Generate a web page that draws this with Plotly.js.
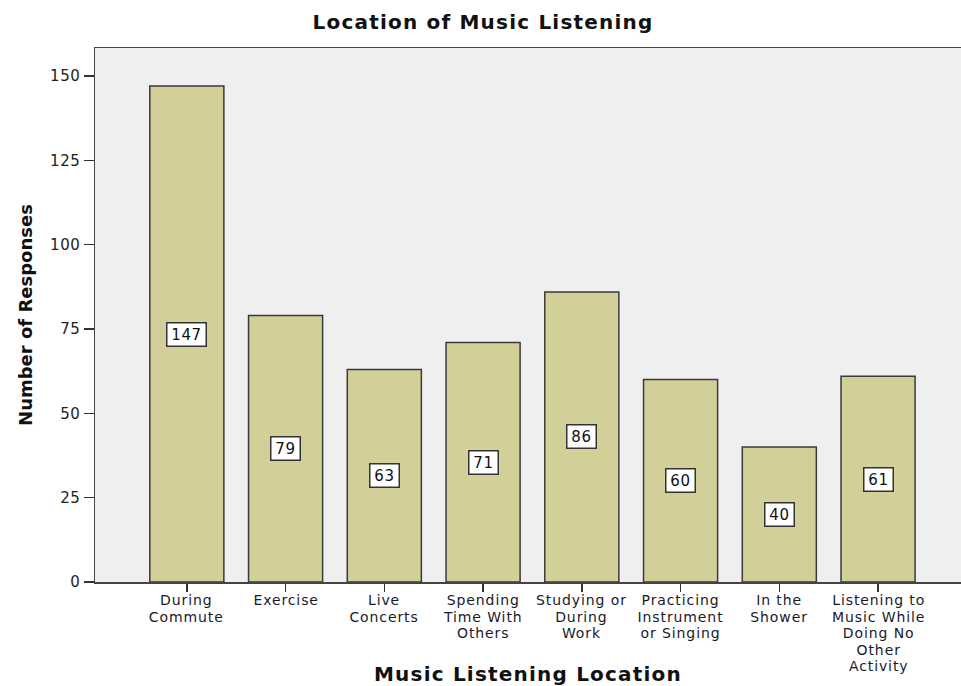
<!DOCTYPE html>
<html>
<head>
<meta charset="utf-8">
<script src="https://cdn.plot.ly/plotly-3.0.1.min.js"></script>
<style>
html,body{margin:0;padding:0;background:#fff;}
#chart .gtitle{letter-spacing:1.2px;}
#chart .g-xtitle text{letter-spacing:1.2px;}
#chart .ytick text{letter-spacing:0.6px;}
#chart .annotation-text{letter-spacing:0.6px;}
#chart .annotation[data-index="8"] .annotation-text,
#chart .annotation[data-index="9"] .annotation-text,
#chart .annotation[data-index="10"] .annotation-text,
#chart .annotation[data-index="11"] .annotation-text,
#chart .annotation[data-index="12"] .annotation-text,
#chart .annotation[data-index="13"] .annotation-text,
#chart .annotation[data-index="14"] .annotation-text,
#chart .annotation[data-index="15"] .annotation-text{letter-spacing:0.9px;}
</style>
</head>
<body>
<div id="chart" style="width:961px;height:686px;"></div>
<script>
const categories = ["During Commute","Exercise","Live Concerts","Spending Time With Others","Studying or During Work","Practicing Instrument or Singing","In the Shower","Listening to Music While Doing No Other Activity"];
const tickLabels = ["During<br>Commute","Exercise","Live<br>Concerts","Spending<br>Time With<br>Others","Studying or<br>During<br>Work","Practicing<br>Instrument<br>or Singing","In the<br>Shower","Listening to<br>Music While<br>Doing No<br>Other<br>Activity"];
const responses = [147, 79, 63, 71, 86, 60, 40, 61];
const yTicks = [0, 25, 50, 75, 100, 125, 150];

const FONT = "DejaVu Sans, Verdana, sans-serif";
const LINE_PX = 16.5;
const xIdx = categories.map((c, i) => i);

const trace = {
  type: "bar",
  x: xIdx,
  y: responses,
  width: 0.75,
  marker: {color: "#d3cf98", line: {color: "#3a3a3a", width: 1.5}},
  hoverinfo: "skip"
};

const valueLabels = responses.map((v, i) => ({
  x: i, y: v / 2, xref: "x", yref: "y",
  text: String(v), showarrow: false,
  width: String(v).length * 10 + 4,
  font: {family: FONT, size: 15, color: "#111"},
  bgcolor: "#ffffff", bordercolor: "#333", borderwidth: 1.5, borderpad: 2
}));

// category labels under each bar (multi-line, tight spacing like the original)
const catLabels = tickLabels.map((t, i) => ({
  x: i, xref: "x", y: 0, yref: "paper",
  yanchor: "top", xanchor: "center", align: "center",
  yshift: -8,
  text: t, showarrow: false,
  font: {family: FONT, size: 14, color: "#1a1a2a"}
}));

const layout = {
  width: 961, height: 686,
  margin: {l: 95, r: 0, t: 48, b: 104},
  paper_bgcolor: "#ffffff",
  plot_bgcolor: "#efefef",
  showlegend: false,
  title: {text: "<b>Location of Music Listening</b>", x: 483 / 961, xanchor: "center", y: 1 - 22 / 686, yanchor: "middle", font: {family: FONT, size: 20, color: "#111"}},
  xaxis: {
    range: [-0.93, 7.84],
    tickmode: "array", tickvals: xIdx, ticktext: categories,
    showticklabels: false,
    ticks: "outside", ticklen: 8, tickwidth: 1.5, tickcolor: "#333",
    showline: true, linecolor: "#444", linewidth: 1.5, mirror: true,
    showgrid: false, zeroline: false,
    title: {text: "<b>Music Listening Location</b>", font: {family: FONT, size: 20, color: "#111"}, standoff: 81},
    fixedrange: true
  },
  yaxis: {
    range: [0, 158.3],
    tickmode: "array", tickvals: yTicks,
    ticks: "outside", ticklen: 10, tickwidth: 1.5, tickcolor: "#333",
    showline: true, linecolor: "#444", linewidth: 1.5, mirror: true,
    showgrid: false, zeroline: false,
    tickfont: {family: FONT, size: 15, color: "#222"},
    title: {text: "<b>Number of Responses</b>", font: {family: FONT, size: 18, color: "#111"}, standoff: 14},
    fixedrange: true
  },
  annotations: valueLabels.concat(catLabels)
};

Plotly.newPlot("chart", [trace], layout, {displayModeBar: false, staticPlot: true}).then(gd => {
  // tighten the line spacing of the multi-line category labels
  gd.querySelectorAll(".annotation-text").forEach(txt => {
    const lines = txt.querySelectorAll("tspan.line");
    lines.forEach((ln, k) => ln.setAttribute("dy", (k * LINE_PX) + "px"));
  });
});
</script>
</body>
</html>
